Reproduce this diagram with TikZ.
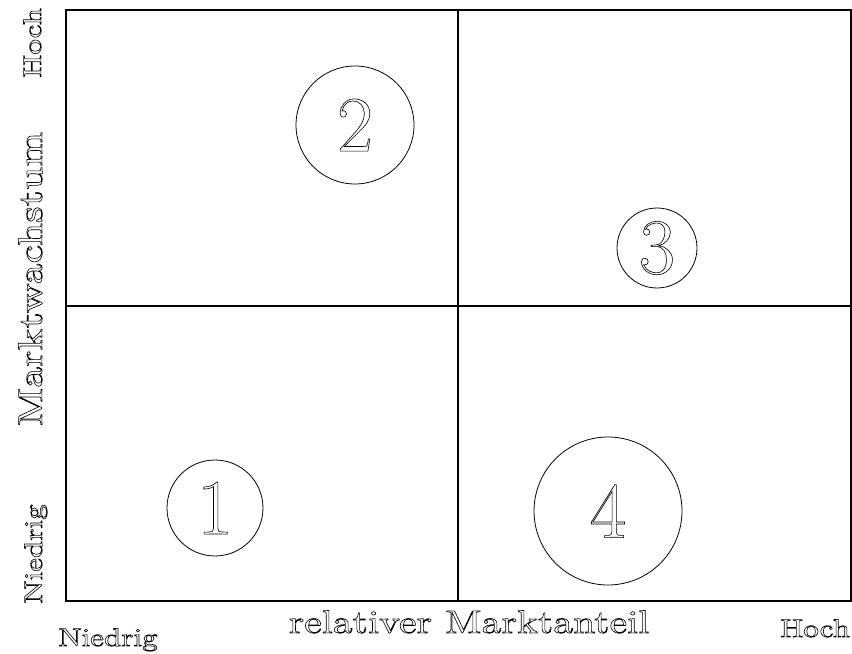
\documentclass[tikz,border=0pt]{standalone}
\usepackage{fontspec}
\usepackage{tikz}
\usetikzlibrary{positioning,calc}

% broad letters for the axis labels
\newfontfamily\breit{lmroman10-regular.otf}[FakeStretch=1.22]
% hollow letters: stroke only
\newcommand{\hohl}[1]{\special{pdf:literal direct 1 Tr 0.35 w}#1\special{pdf:literal direct 0 Tr}}

\begin{document}
\begin{tikzpicture}[x=0.02cm, y=0.02cm]
    \tikzset{
        feld/.style={draw, line width=0.8pt},
        kreis/.style={draw, circle, inner sep=0pt, line width=0.45pt, font=\fontsize{45}{47}\selectfont},
        achse/.style={anchor=base, inner sep=0pt, font=\breit\fontsize{18.5}{20}\selectfont},
        stufe/.style={anchor=base, inner sep=0pt, font=\breit\fontsize{14.5}{17}\selectfont}
    }
    \useasboundingbox (0,0) rectangle (852,653);

    % Matrix
    \coordinate (ul) at (66,52);
    \coordinate (or) at (851,643);
    \draw [feld] (ul) rectangle (or);
    \coordinate (mu) at (458,52);
    \coordinate (mo) at (458,643);
    \coordinate (ml) at (66,347);
    \coordinate (mr) at (851,347);
    \draw [feld] (mu) -- (mo);
    \draw [feld] (ml) -- (mr);

    % Produkte
    \node [kreis, minimum size=1.92cm] (p1) at (215,145) {\hohl{1}};
    \node [kreis, minimum size=2.36cm] (p2) at (355,528) {\hohl{2}};
    \node [kreis, minimum size=1.60cm] (p3) at (657,405) {\hohl{3}};
    \node [kreis, minimum size=2.96cm] (p4) at (608,142) {\hohl{4}};

    % Achsen
    \node [achse] (xachse) at (469,20) {\hohl{relativer Marktanteil}};
    \node [achse, rotate=90, font=\breit\fontsize{19.5}{21}\selectfont] (yachse) at (42,374) {\hohl{Marktwachstum}};
    \node [stufe] (xniedrig) at (108,7) {\hohl{Niedrig}};
    \node [stufe] (xhoch) at (815,16) {\hohl{Hoch}};
    \node [stufe, rotate=90] (yniedrig) at (42,99) {\hohl{Niedrig}};
    \node [stufe, rotate=90] (yhoch) at (41,610) {\hohl{Hoch}};
\end{tikzpicture}
\end{document}
